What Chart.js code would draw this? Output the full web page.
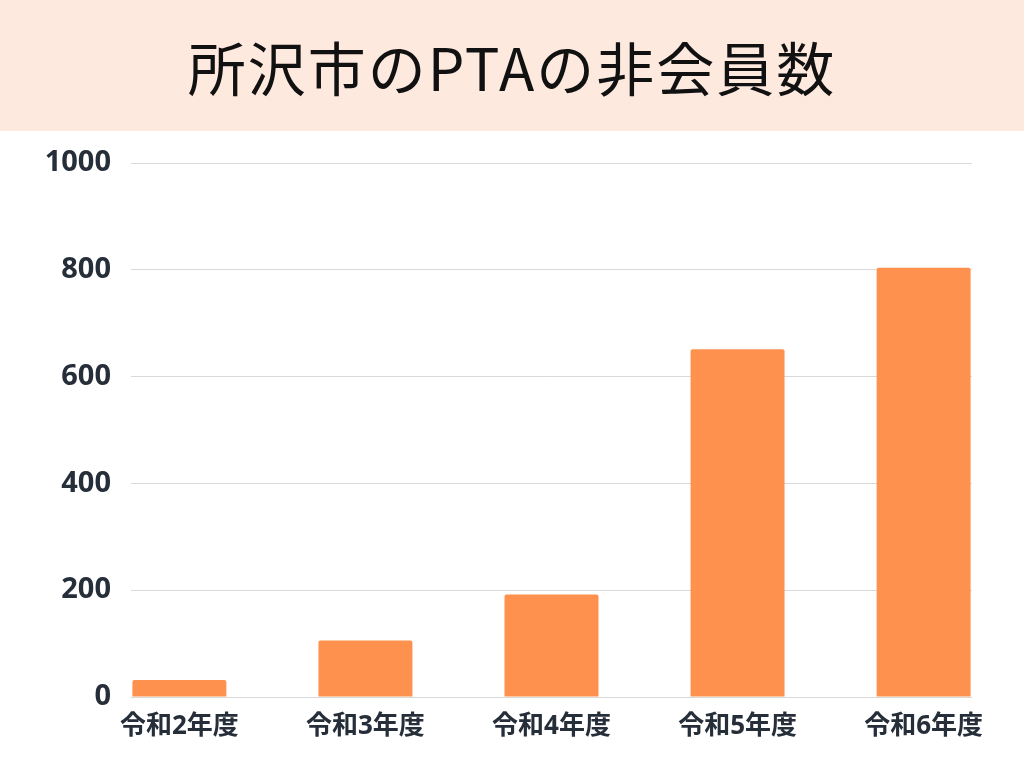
<!DOCTYPE html>
<html lang="ja">
<head>
<meta charset="utf-8">
<script src="https://cdn.jsdelivr.net/npm/chart.js@4"></script>
<style>
	html, body {
		margin: 0;
		padding: 0;
		width: 1024px;
		height: 768px;
		background: #ffffff;
		overflow: hidden;
	}
	.title-band {
		height: 131px;
		background: #fee9df;
		display: flex;
		align-items: center;
		justify-content: center;
		font-family: 'Noto Sans CJK JP', 'Noto Sans', sans-serif;
		font-weight: 400;
		font-size: 58px;
		letter-spacing: 2px;
		color: #111111;
	}
	.chart-box {
		position: relative;
		width: 1024px;
		height: 637px;
	}
</style>
</head>
<body>
<div class="title-band">所沢市のPTAの非会員数</div>
<div class="chart-box">
	<canvas id="pta-bar-chart"></canvas>
</div>
<script>
const categories = ['令和2年度', '令和3年度', '令和4年度', '令和5年度', '令和6年度'];
const nonMembers = [32, 106, 192, 651, 804];
const yTicks = [0, 200, 400, 600, 800, 1000];

const textColor = '#262e39';

const ctx = document.getElementById('pta-bar-chart');

new Chart(ctx, {
	type: 'bar',
	data: {
		datasets: [
			{
				label: '非会員数',
				data: nonMembers.map((v, i) => ({ x: i, y: v })),
				backgroundColor: '#fe914d',
				borderWidth: 0,
				borderRadius: 2,
				categoryPercentage: 1,
				barPercentage: 0.505,
			},
		],
	},
	options: {
		responsive: true,
		maintainAspectRatio: false,
		animation: false,
		layout: {
			padding: { top: 32, right: 52, bottom: 0, left: 0 },
		},
		plugins: {
			legend: { display: false },
			tooltip: { enabled: false },
		},
		scales: {
			x: {
				type: 'linear',
				offset: false,
				min: -0.26,
				max: 4.26,
				afterBuildTicks: (scale) => {
					scale.ticks = categories.map((_, i) => ({ value: i }));
				},
				afterFit: (scale) => {
					scale.height = 71;
					scale.paddingLeft = 0;
					scale.paddingRight = 0;
				},
				grid: { display: false, drawTicks: false },
				border: { display: false },
				ticks: {
					padding: 14,
					color: textColor,
					font: {
						family: "'Noto Sans', 'Noto Sans CJK JP', sans-serif",
						size: 26,
						weight: 'bold',
					},
					callback: (value) => categories[Math.round(value)],
				},
			},
			y: {
				min: 0,
				max: 1000,
				afterBuildTicks: (scale) => {
					scale.ticks = yTicks.map((v) => ({ value: v }));
				},
				afterFit: (scale) => {
					scale.width = 131;
					scale.paddingTop = 0;
					scale.paddingBottom = 0;
				},
				grid: {
					color: '#d9d9d9',
					lineWidth: 1,
					drawTicks: false,
				},
				border: { display: false },
				ticks: {
					padding: 20,
					color: textColor,
					font: {
						family: "'Noto Sans', sans-serif",
						size: 29,
						weight: 'bold',
					},
					callback: (value) => String(value),
				},
			},
		},
	},
});
</script>
</body>
</html>
